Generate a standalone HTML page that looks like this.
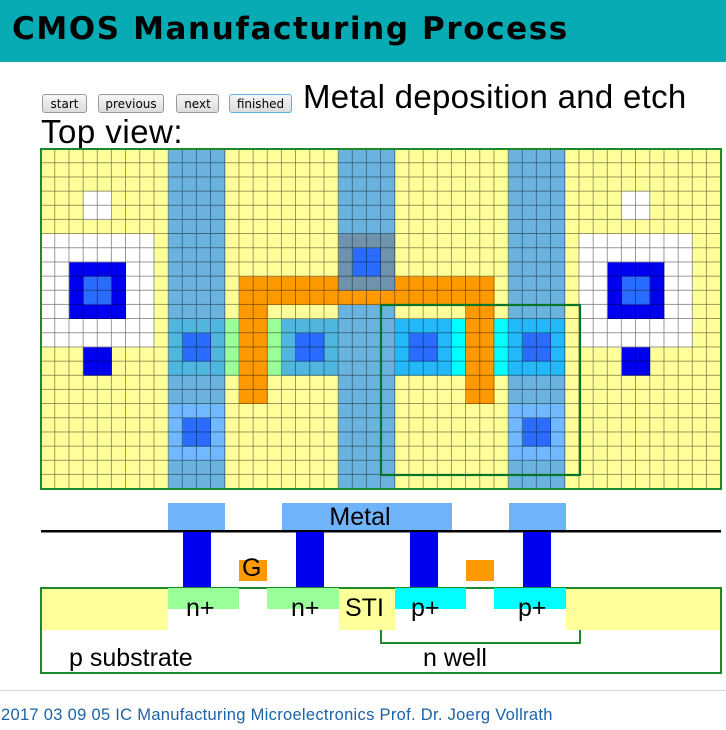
<!DOCTYPE html>
<html><head><meta charset="utf-8"><style>
html,body{margin:0;padding:0;width:726px;height:730px;overflow:hidden;background:#fff;font-family:"Liberation Sans",sans-serif}
.hdr{position:absolute;left:0;top:0;width:726px;height:62px;background:#07abb3}
.hdr span{position:absolute;left:12px;top:11px;font-family:"DejaVu Sans",sans-serif;font-weight:bold;font-size:31px;letter-spacing:1.6px;color:#000}
.btn{position:absolute;top:94px;height:19px;border:1px solid #999;border-radius:3px;background:linear-gradient(#f6f6f6,#dcdcdc);font-family:"DejaVu Sans",sans-serif;font-size:12px;line-height:19px;text-align:center;box-sizing:border-box;color:#000}
.t{position:absolute;color:#000;white-space:nowrap}
</style></head><body>
<div class="hdr"><span>CMOS Manufacturing Process</span></div>
<div class="btn" style="left:42px;width:45px">start</div>
<div class="btn" style="left:98px;width:66px">previous</div>
<div class="btn" style="left:176px;width:43px">next</div>
<div class="btn" style="left:229px;width:63px;border-color:#5ab3e0">finished</div>
<div class="t" style="left:303px;top:78px;font-size:33px;letter-spacing:0.3px">Metal deposition and etch</div>
<div class="t" style="left:41px;top:113px;font-size:33px;letter-spacing:0.5px">Top view:</div>
<svg width="726" height="730" style="position:absolute;left:0;top:0">
<defs><pattern id="g" width="1" height="1" patternUnits="userSpaceOnUse"><path d="M1 0V1H0" fill="none" stroke="#000" stroke-opacity="0.55" stroke-width="0.1"/></pattern></defs>
<g transform="translate(41,149) scale(14.1667)">
<rect x="0" y="0" width="48" height="24" fill="#ffff99"/>
<rect x="3" y="3" width="2" height="2" fill="#fff"/><rect x="41" y="3" width="2" height="2" fill="#fff"/>
<rect x="0" y="6" width="8" height="8" fill="#fff"/><rect x="38" y="6" width="8" height="8" fill="#fff"/>
<rect x="2" y="8" width="4" height="4" fill="#0000f0"/><rect x="40" y="8" width="4" height="4" fill="#0000f0"/>
<rect x="3" y="9" width="2" height="2" fill="#2a6cff"/><rect x="41" y="9" width="2" height="2" fill="#2a6cff"/>
<rect x="3" y="14" width="2" height="2" fill="#0000f0"/><rect x="41" y="14" width="2" height="2" fill="#0000f0"/>
<rect x="9" y="0" width="4" height="24" fill="#6bb3df"/><rect x="21" y="0" width="4" height="24" fill="#6bb3df"/><rect x="33" y="0" width="4" height="24" fill="#6bb3df"/>
<rect x="14" y="9" width="18" height="2" fill="#ff9900"/><rect x="14" y="9" width="2" height="9" fill="#ff9900"/><rect x="30" y="9" width="2" height="9" fill="#ff9900"/>
<rect x="21" y="6" width="4" height="4" fill="#7093ad"/><rect x="22" y="7" width="2" height="2" fill="#2a6cff"/>
<rect x="13" y="12" width="1" height="4" fill="#99ff99"/><rect x="16" y="12" width="1" height="4" fill="#99ff99"/>
<rect x="9" y="12" width="4" height="4" fill="#4fb6e0"/><rect x="17" y="12" width="4" height="4" fill="#4fb6e0"/>
<rect x="29" y="12" width="1" height="4" fill="#00ffff"/><rect x="32" y="12" width="1" height="4" fill="#00ffff"/>
<rect x="25" y="12" width="4" height="4" fill="#22b8fa"/><rect x="33" y="12" width="4" height="4" fill="#22b8fa"/>
<rect x="9" y="18" width="4" height="4" fill="#70b8ff"/><rect x="33" y="18" width="4" height="4" fill="#70b8ff"/>
<g fill="#2a6cff"><rect x="10" y="13" width="2" height="2"/><rect x="18" y="13" width="2" height="2"/><rect x="26" y="13" width="2" height="2"/><rect x="34" y="13" width="2" height="2"/><rect x="10" y="19" width="2" height="2"/><rect x="34" y="19" width="2" height="2"/></g>
<rect x="0" y="0" width="48" height="24" fill="url(#g)"/>
</g>
<rect x="41" y="149" width="680" height="340" fill="none" stroke="#1a8a2a" stroke-width="2"/>
<rect x="381" y="305" width="199" height="170" fill="none" stroke="#08742a" stroke-width="2.2"/>
<rect x="168" y="503" width="57" height="28" fill="#6fb4f8"/>
<rect x="282" y="503" width="170" height="28" fill="#6fb4f8"/>
<rect x="509" y="503" width="57" height="28" fill="#6fb4f8"/>
<text x="360" y="525" font-size="25" font-family="Liberation Sans,sans-serif" text-anchor="middle">Metal</text>
<rect x="41" y="530" width="680" height="2.5" fill="#000"/>
<g fill="#0000f0"><rect x="183" y="532" width="28" height="56"/><rect x="296" y="532" width="28" height="56"/><rect x="410" y="532" width="28" height="56"/><rect x="523" y="532" width="28" height="56"/></g>
<rect x="239" y="560" width="28" height="21" fill="#ff9900"/><rect x="466" y="560" width="28" height="21" fill="#ff9900"/>
<rect x="41" y="588" width="680" height="85" fill="#fff" stroke="#1a8a2a" stroke-width="2"/>
<rect x="42" y="589" width="126" height="41" fill="#ffff99"/>
<rect x="339" y="589" width="56" height="41" fill="#ffff99"/>
<rect x="566" y="589" width="154" height="41" fill="#ffff99"/>
<rect x="168" y="588" width="71" height="21" fill="#99ff99"/><rect x="267" y="588" width="72" height="21" fill="#99ff99"/>
<rect x="395" y="588" width="71" height="21" fill="#00ffff"/><rect x="494" y="588" width="72" height="21" fill="#00ffff"/>
<path d="M381 630V643H580V630" fill="none" stroke="#1a8a2a" stroke-width="2"/>
<g font-size="25" font-family="Liberation Sans,sans-serif">
<text x="242" y="576">G</text>
<text x="186" y="616">n+</text><text x="291" y="616">n+</text><text x="345" y="616">STI</text>
<text x="411" y="616">p+</text><text x="518" y="616">p+</text>
<text x="69" y="666">p substrate</text><text x="423" y="666">n well</text>
</g>
<rect x="0" y="690" width="726" height="1" fill="#d0d8de"/>
<text x="1" y="720" font-size="16.5" letter-spacing="0.3" fill="#1a63a8" font-family="Liberation Sans,sans-serif">2017 03 09 05 IC Manufacturing Microelectronics Prof. Dr. Joerg Vollrath</text>
</svg>
</body></html>
